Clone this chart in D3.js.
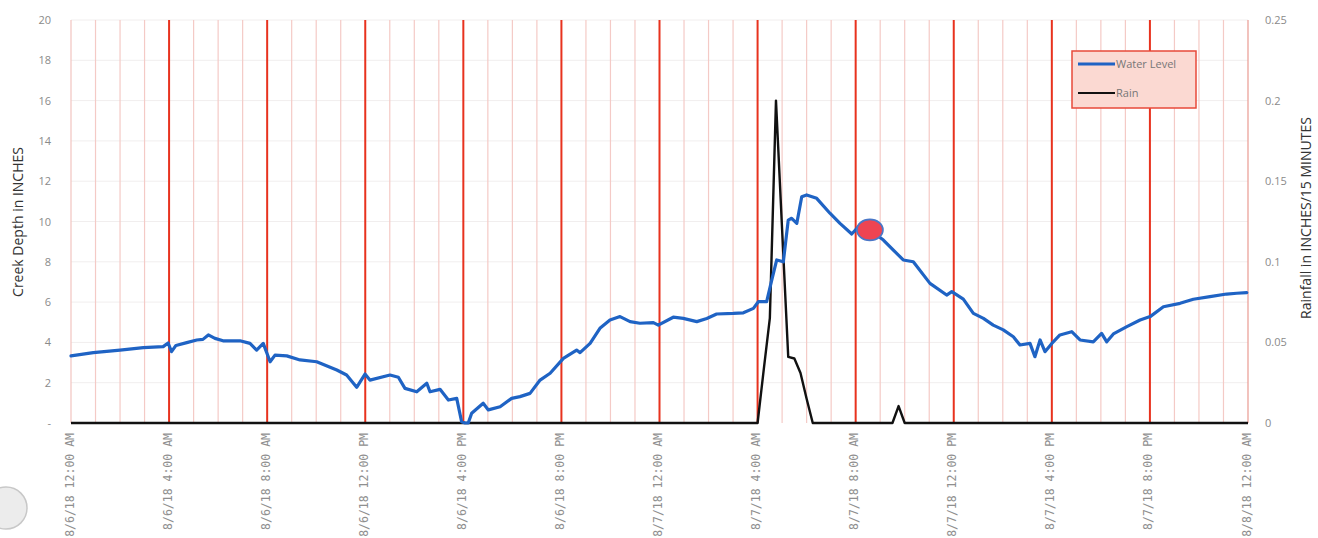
<!DOCTYPE html>
<html><head><meta charset="utf-8">
<script src="https://cdn.jsdelivr.net/npm/d3@7"></script>
<style>
html,body{margin:0;padding:0;background:#fff;}
svg{display:block;}
</style></head>
<body>
<svg id="chart" width="1318" height="538"></svg>
<script>
// ---- DATA ----
// hours after 8/6/18 12:00 AM
const waterHours = [0,0.91,2.0,2.95,3.76,3.96,4.1,4.28,4.72,5.13,5.38,5.6,5.87,6.2,6.89,7.3,7.57,7.84,8.12,8.32,8.8,9.34,10.02,10.84,11.24,11.65,11.99,12.19,13.01,13.35,13.62,14.1,14.51,14.64,15.05,15.39,15.73,15.93,16.07,16.2,16.34,16.81,17.02,17.5,17.97,18.31,18.72,19.13,19.54,20.08,20.62,20.76,21.17,21.57,21.98,22.39,22.8,23.2,23.75,23.95,24.56,24.97,25.52,25.93,26.33,27.01,27.42,27.83,28.03,28.37,28.58,28.78,29.05,29.25,29.39,29.6,29.8,30.0,30.41,30.95,31.36,31.84,32.18,32.58,33.13,33.94,34.35,35.03,35.71,35.92,36.39,36.8,37.21,37.61,38.02,38.43,38.7,39.11,39.31,39.52,39.72,40.0,40.33,40.81,41.15,41.69,42.03,42.24,42.51,43.06,43.6,44.01,44.55,45.23,45.77,46.45,47.13,47.54,47.95];
const waterLevel = [3.33,3.49,3.62,3.74,3.79,3.97,3.54,3.85,3.99,4.12,4.15,4.37,4.2,4.08,4.08,3.95,3.62,3.95,3.04,3.37,3.33,3.13,3.04,2.63,2.38,1.77,2.43,2.13,2.38,2.27,1.72,1.55,1.97,1.55,1.67,1.14,1.22,0.06,0,0,0.48,0.98,0.65,0.81,1.22,1.31,1.47,2.13,2.47,3.21,3.62,3.49,3.95,4.70,5.11,5.28,5.03,4.95,4.98,4.86,5.25,5.19,5.03,5.19,5.41,5.44,5.47,5.69,6.02,6.02,7.10,8.09,8.0,10.07,10.16,9.91,11.23,11.32,11.15,10.41,9.91,9.38,9.83,9.58,9.08,8.09,8.0,6.93,6.35,6.52,6.15,5.44,5.19,4.86,4.62,4.28,3.87,3.95,3.29,4.12,3.54,3.95,4.37,4.53,4.12,4.03,4.45,4.03,4.42,4.78,5.11,5.28,5.77,5.94,6.14,6.27,6.40,6.44,6.47];

const rainHours = [0,28.0,28.25,28.5,28.75,29.0,29.25,29.5,29.75,30.0,30.25,33.5,33.75,34.0,48];
const rainValues = [0,0,0.033,0.065,0.2,0.12,0.041,0.040,0.031,0.015,0,0,0.0105,0,0];

const markerHours = [32.58];
const markerLevel = [9.58];

const depthTicks = [0,2,4,6,8,10,12,14,16,18,20];
const rainTicks = [0,0.05,0.1,0.15,0.2,0.25];
const seriesNames = ["Water Level","Rain"];
const leftTitle = "Creek Depth in INCHES";
const rightTitle = "Rainfall in INCHES/15 MINUTES";

// ---- CHART ----
const svg = d3.select("#chart");
const m = {left:71, right:1248, top:20, bottom:423};
const t0 = new Date(2018,7,6,0,0);
const t1 = new Date(2018,7,8,0,0);
const toDate = h => new Date(t0.getTime() + h*3600e3);

const x = d3.scaleTime().domain([t0,t1]).range([m.left, m.right]);
const yL = d3.scaleLinear().domain([0,20]).range([m.bottom, m.top]);
const yR = d3.scaleLinear().domain([0,0.25]).range([m.bottom, m.top]);

// scan artifact circle bottom-left
svg.append("circle").attr("cx",6).attr("cy",508).attr("r",21)
  .attr("fill","#ececec").attr("stroke","#c8c8c8").attr("stroke-width",1.5);

// faint horizontal gridlines
svg.append("g").selectAll("line").data(depthTicks.filter(d=>d>0)).join("line")
  .attr("x1",m.left).attr("x2",m.right)
  .attr("y1",d=>yL(d)).attr("y2",d=>yL(d))
  .attr("stroke","#f1eeee").attr("stroke-width",1);

// vertical gridlines
const hours = d3.timeHour.range(t0, d3.timeHour.offset(t1,1));
svg.append("g").selectAll("line").data(hours).join("line")
  .attr("x1",d=>x(d)).attr("x2",d=>x(d))
  .attr("y1",m.top).attr("y2",m.bottom)
  .attr("stroke",d=>{
    const h=(d-t0)/3600e3;
    if(h===0) return "#f2c4c0";
    if(h===48) return "#e99a92";
    return h%4===0 ? "#e8321e" : "#f4cac6";
  })
  .attr("stroke-width",d=>{
    const h=(d-t0)/3600e3;
    return (h%4===0 && h>0 && h<48) ? 2 : 1.2;
  });

// rain line
const rainData = rainHours.map((h,i)=>({t:toDate(h), v:rainValues[i]}));
svg.append("path").datum(rainData)
  .attr("fill","none").attr("stroke","#111").attr("stroke-width",2.4)
  .attr("stroke-linejoin","round")
  .attr("d", d3.line().x(d=>x(d.t)).y(d=>yR(d.v)));

// water level line
const waterData = waterHours.map((h,i)=>({t:toDate(h), v:waterLevel[i]}));
svg.append("path").datum(waterData)
  .attr("fill","none").attr("stroke","#1f63c4").attr("stroke-width",3.2)
  .attr("stroke-linejoin","round").attr("stroke-linecap","round")
  .attr("d", d3.line().x(d=>x(d.t)).y(d=>yL(d.v)));

// red marker
svg.append("g").selectAll("ellipse").data(markerHours.map((h,i)=>({t:toDate(h),v:markerLevel[i]}))).join("ellipse")
  .attr("cx",d=>x(d.t)).attr("cy",d=>yL(d.v))
  .attr("rx",13).attr("ry",10.5)
  .attr("fill","#ee4452").attr("stroke","#4a78c8").attr("stroke-width",1.8);

// left axis
const fontTick = "'Open Sans', 'Liberation Sans', sans-serif";
const gL = svg.append("g").attr("transform",`translate(${m.left-17},0)`)
  .call(d3.axisLeft(yL).tickValues(depthTicks).tickSize(0).tickFormat(d=>d===0?"-":d));
gL.select(".domain").remove();
gL.selectAll("text").attr("fill","#8a8a8a").style("font-family",fontTick).style("font-size","11px");

// right axis
const gR = svg.append("g").attr("transform",`translate(${m.right+14},0)`)
  .call(d3.axisRight(yR).tickValues(rainTicks).tickSize(0).tickFormat(d=>String(+d.toFixed(2))));
gR.select(".domain").remove();
gR.selectAll("text").attr("fill","#8a8a8a").style("font-family",fontTick).style("font-size","11px");

// bottom axis labels
const fmt = d3.timeFormat("%-m/%-d/%y %-I:%M %p");
const xTicks = d3.timeHour.every(4).range(t0, d3.timeHour.offset(t1,1));
const gB = svg.append("g").attr("transform",`translate(0,${m.bottom})`)
  .call(d3.axisBottom(x).tickValues(xTicks).tickSize(0).tickFormat(fmt));
gB.select(".domain").remove();
gB.selectAll("text")
  .attr("transform","rotate(-90)")
  .attr("x",-10).attr("y",-2).attr("dy","0.35em")
  .attr("text-anchor","end")
  .attr("fill","#8f8f8f")
  .style("font-family","'DejaVu Sans Mono', monospace").style("font-size","11.5px");

// axis titles
svg.append("text").attr("transform","translate(23,222) rotate(-90)")
  .attr("text-anchor","middle").attr("fill","#333")
  .style("font-family","'Open Sans', sans-serif").style("font-size","14px")
  .text(leftTitle);
svg.append("text").attr("transform","translate(1311,218) rotate(-90)")
  .attr("text-anchor","middle").attr("fill","#333")
  .style("font-family","'Open Sans', sans-serif").style("font-size","14px")
  .text(rightTitle);

// legend
const lg = svg.append("g").attr("transform","translate(1072,51)");
lg.append("rect").attr("width",124).attr("height",57)
  .attr("fill","#fbd9d2").attr("stroke","#e8493a").attr("stroke-width",1.5);
const legColors = ["#1f63c4","#111"];
const legW = [3,2];
seriesNames.forEach((n,i)=>{
  const yy = 13 + i*29;
  lg.append("line").attr("x1",6).attr("x2",43).attr("y1",yy).attr("y2",yy)
    .attr("stroke",legColors[i]).attr("stroke-width",legW[i]);
  lg.append("text").attr("x",44).attr("y",yy).attr("dy","0.35em")
    .attr("fill","#777").style("font-family","'Open Sans', sans-serif").style("font-size","11px")
    .text(n);
});
</script>
</body></html>
